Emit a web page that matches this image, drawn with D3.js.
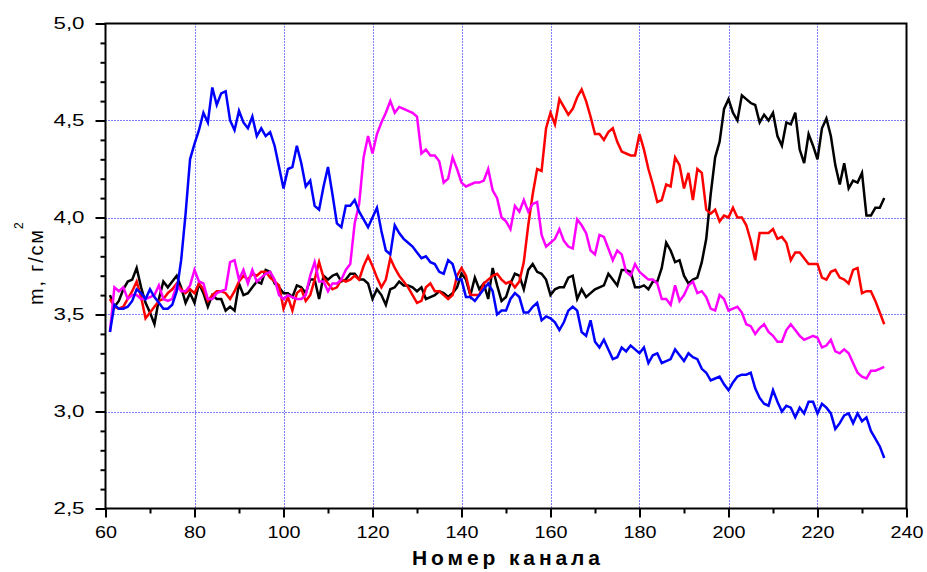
<!DOCTYPE html>
<html>
<head>
<meta charset="utf-8">
<script src="https://cdn.jsdelivr.net/npm/d3@7"></script>
<style>
  body { margin: 0; background: #fff; }
  svg { display: block; font-family: "Liberation Sans", Arial, sans-serif; }
</style>
</head>
<body>
<svg id="chart" width="927" height="572"></svg>
<script>
// Channel numbers run from firstChannel upward, one value per channel.
const firstChannel = 61;

const seriesBlack = [
  3.60,3.54,3.57,3.63,3.67,3.68,3.74,3.64,3.56,3.51,
  3.45,3.58,3.67,3.64,3.67,3.70,3.64,3.56,3.61,3.56,
  3.66,3.61,3.54,3.60,3.58,3.58,3.52,3.54,3.52,3.66,
  3.60,3.61,3.64,3.67,3.66,3.73,3.72,3.66,3.64,3.61,
  3.61,3.59,3.65,3.64,3.61,3.68,3.68,3.58,3.70,3.68,
  3.70,3.71,3.67,3.68,3.71,3.71,3.68,3.68,3.66,3.58,
  3.63,3.60,3.55,3.63,3.64,3.67,3.65,3.65,3.64,3.62,
  3.64,3.58,3.59,3.60,3.62,3.61,3.59,3.61,3.64,3.71,
  3.68,3.60,3.69,3.63,3.66,3.58,3.74,3.65,3.57,3.59,
  3.66,3.71,3.70,3.63,3.73,3.76,3.72,3.71,3.68,3.60,
  3.63,3.64,3.64,3.69,3.70,3.58,3.63,3.59,3.61,3.63,
  3.64,3.65,3.71,3.68,3.65,3.73,3.73,3.72,3.64,3.64,
  3.65,3.63,3.67,3.67,3.74,3.87,3.83,3.77,3.78,3.70,
  3.66,3.68,3.69,3.77,3.89,4.12,4.31,4.39,4.56,4.61,
  4.54,4.50,4.63,4.61,4.59,4.58,4.49,4.53,4.50,4.54,
  4.42,4.37,4.49,4.48,4.54,4.35,4.28,4.43,4.37,4.30,
  4.46,4.51,4.42,4.27,4.17,4.28,4.15,4.19,4.18,4.23,
  4.01,4.01,4.05,4.05,4.10
];

const seriesRed = [
  3.58,3.54,3.53,3.54,3.58,3.62,3.67,3.59,3.48,3.51,
  3.54,3.57,3.58,3.61,3.63,3.66,3.63,3.61,3.63,3.61,
  3.66,3.63,3.57,3.60,3.62,3.62,3.61,3.58,3.62,3.67,
  3.70,3.68,3.71,3.70,3.72,3.72,3.69,3.67,3.65,3.53,
  3.59,3.52,3.61,3.63,3.57,3.60,3.68,3.77,3.69,3.66,
  3.63,3.64,3.68,3.67,3.68,3.70,3.68,3.75,3.80,3.75,
  3.69,3.64,3.68,3.79,3.74,3.70,3.67,3.64,3.60,3.56,
  3.57,3.64,3.66,3.62,3.62,3.60,3.58,3.60,3.70,3.74,
  3.70,3.60,3.60,3.60,3.66,3.68,3.70,3.71,3.68,3.66,
  3.67,3.64,3.67,3.77,3.96,4.12,4.25,4.24,4.46,4.54,
  4.48,4.61,4.57,4.53,4.56,4.62,4.66,4.60,4.52,4.43,
  4.43,4.40,4.44,4.46,4.39,4.34,4.33,4.32,4.32,4.43,
  4.35,4.25,4.17,4.08,4.09,4.17,4.16,4.31,4.27,4.15,
  4.23,4.09,4.25,4.23,4.04,4.02,4.04,3.98,4.01,4.00,
  4.05,4.00,4.00,3.96,3.88,3.78,3.92,3.92,3.92,3.94,
  3.89,3.90,3.87,3.78,3.82,3.82,3.79,3.76,3.76,3.76,
  3.69,3.68,3.72,3.73,3.69,3.68,3.66,3.73,3.74,3.61,
  3.62,3.62,3.57,3.51,3.45
];

const seriesMagenta = [
  3.41,3.64,3.62,3.64,3.58,3.60,3.60,3.58,3.58,3.59,
  3.60,3.65,3.58,3.57,3.58,3.65,3.62,3.62,3.65,3.73,
  3.67,3.66,3.58,3.58,3.61,3.62,3.63,3.77,3.78,3.68,
  3.73,3.66,3.73,3.67,3.69,3.71,3.72,3.68,3.60,3.58,
  3.60,3.59,3.58,3.58,3.60,3.70,3.77,3.67,3.67,3.62,
  3.66,3.66,3.68,3.73,3.76,3.97,4.07,4.31,4.42,4.33,
  4.43,4.49,4.54,4.60,4.54,4.57,4.56,4.55,4.54,4.52,
  4.33,4.35,4.32,4.32,4.29,4.18,4.20,4.31,4.25,4.18,
  4.16,4.17,4.18,4.18,4.19,4.25,4.14,4.10,4.00,3.98,
  3.94,4.06,4.03,4.09,4.03,4.07,4.08,3.91,3.85,3.87,
  3.89,3.94,3.88,3.85,3.84,3.99,3.96,3.92,3.83,3.81,
  3.91,3.90,3.84,3.78,3.83,3.81,3.72,3.70,3.76,3.72,
  3.70,3.68,3.68,3.66,3.58,3.58,3.55,3.65,3.57,3.60,
  3.65,3.67,3.61,3.62,3.59,3.53,3.52,3.60,3.58,3.52,
  3.53,3.54,3.51,3.45,3.44,3.40,3.43,3.45,3.41,3.39,
  3.36,3.36,3.42,3.45,3.42,3.39,3.37,3.38,3.39,3.38,
  3.33,3.34,3.37,3.31,3.30,3.32,3.30,3.25,3.20,3.18,
  3.17,3.21,3.21,3.22,3.23
];

const seriesBlue = [
  3.41,3.55,3.53,3.53,3.54,3.57,3.63,3.61,3.58,3.63,
  3.59,3.56,3.53,3.53,3.55,3.62,3.78,4.02,4.30,4.38,
  4.45,4.54,4.49,4.67,4.58,4.64,4.65,4.50,4.45,4.55,
  4.49,4.46,4.52,4.42,4.46,4.42,4.44,4.37,4.26,4.15,
  4.25,4.26,4.37,4.28,4.16,4.19,4.06,4.04,4.16,4.26,
  4.12,3.97,3.95,4.06,4.06,4.09,4.03,3.99,3.95,4.00,
  4.05,3.93,3.83,3.81,3.96,3.92,3.89,3.87,3.85,3.82,
  3.79,3.80,3.77,3.76,3.72,3.71,3.78,3.76,3.68,3.68,
  3.59,3.59,3.57,3.60,3.63,3.66,3.62,3.50,3.52,3.52,
  3.58,3.61,3.59,3.51,3.51,3.54,3.56,3.47,3.49,3.48,
  3.46,3.42,3.46,3.52,3.54,3.52,3.41,3.39,3.47,3.36,
  3.33,3.37,3.32,3.27,3.28,3.33,3.31,3.34,3.32,3.30,
  3.33,3.25,3.29,3.30,3.25,3.26,3.27,3.32,3.29,3.26,
  3.30,3.28,3.27,3.22,3.20,3.16,3.17,3.18,3.14,3.11,
  3.15,3.18,3.19,3.19,3.20,3.12,3.07,3.04,3.03,3.11,
  3.05,3.00,3.03,3.02,2.97,3.02,2.99,3.05,3.05,2.99,
  3.04,3.02,2.99,2.91,2.94,2.98,2.99,2.94,2.99,2.95,
  2.97,2.90,2.86,2.82,2.76
];

const xTickValues = [60, 80, 100, 120, 140, 160, 180, 200, 220, 240];
const yTickValues = [2.5, 3.0, 3.5, 4.0, 4.5, 5.0];
const xTitle = "Номер канала";
const yTitle = "m, г/см";
const yTitleSup = "2";

// Drawing order: later entries sit on top.
const series = [
  { values: seriesBlack,   color: "#000000" },
  { values: seriesRed,     color: "#ff0000" },
  { values: seriesMagenta, color: "#ff00ff" },
  { values: seriesBlue,    color: "#0000ff" }
];

const plot = { left: 105.5, right: 906.5, top: 23.5, bottom: 508.5 };

const svg = d3.select("#chart");
svg.append("rect").attr("width", 927).attr("height", 572).attr("fill", "#fff");

const x = d3.scaleLinear().domain([60, 240]).range([plot.left, plot.right]);
const y = d3.scaleLinear().domain([2.5, 5.0]).range([plot.bottom, plot.top]);

// Dotted blue grid at the inner major ticks
const grid = svg.append("g").attr("stroke", "#0000ff").attr("stroke-width", 1)
  .attr("stroke-dasharray", "1,2");
grid.selectAll("line.gx")
  .data(xTickValues.slice(1, -1))
  .join("line").attr("class", "gx")
  .attr("x1", d => Math.round(x(d)) + 0.5).attr("x2", d => Math.round(x(d)) + 0.5)
  .attr("y1", plot.top).attr("y2", plot.bottom);
grid.selectAll("line.gy")
  .data(yTickValues.slice(1, -1))
  .join("line").attr("class", "gy")
  .attr("x1", plot.left).attr("x2", plot.right)
  .attr("y1", d => Math.round(y(d)) + 0.5).attr("y2", d => Math.round(y(d)) + 0.5);

// Data lines
const line = d3.line()
  .x((d, i) => x(firstChannel + i))
  .y(d => y(d));
svg.append("g").selectAll("path")
  .data(series)
  .join("path")
  .attr("fill", "none")
  .attr("stroke", d => d.color)
  .attr("stroke-width", 2.5)
  .attr("stroke-linejoin", "miter")
  .attr("d", d => line(d.values));

// Axes
const fmtY = d => d.toFixed(1).replace(".", ",");
const xMinor = d3.range(70, 240, 20);
const yMinor = d3.range(26, 50).map(v => v / 10).filter(v => Math.abs(v * 2 - Math.round(v * 2)) > 1e-6);

function styleAxis(g) {
  g.select(".domain").remove();
  g.selectAll(".tick line").attr("stroke", "#000").attr("stroke-width", 2);
  g.selectAll(".tick text").attr("fill", "#000").attr("font-size", 16);
}

const xAxisG = svg.append("g").attr("transform", `translate(0,${plot.bottom})`);
xAxisG.call(d3.axisBottom(x).tickValues(xTickValues).tickSize(9).tickPadding(9.5).tickFormat(d3.format("d")))
  .call(styleAxis);
xAxisG.selectAll(".tick text")
  .attr("textLength", d => String(d).length * 11)
  .attr("lengthAdjust", "spacingAndGlyphs");
svg.append("g").attr("transform", `translate(0,${plot.bottom})`)
  .call(d3.axisBottom(x).tickValues(xMinor).tickSize(5).tickFormat(""))
  .call(styleAxis);

const yAxisG = svg.append("g").attr("transform", `translate(${plot.left},0)`);
yAxisG.call(d3.axisLeft(y).tickValues(yTickValues).tickSize(10).tickPadding(11).tickFormat(fmtY))
  .call(styleAxis);
yAxisG.selectAll(".tick text")
  .attr("textLength", 31)
  .attr("lengthAdjust", "spacingAndGlyphs");
svg.append("g").attr("transform", `translate(${plot.left},0)`)
  .call(d3.axisLeft(y).tickValues(yMinor).tickSize(5).tickFormat(""))
  .call(styleAxis);

// Plot frame
svg.append("rect")
  .attr("x", plot.left).attr("y", plot.top)
  .attr("width", plot.right - plot.left).attr("height", plot.bottom - plot.top)
  .attr("fill", "none").attr("stroke", "#000").attr("stroke-width", 2);

// Axis titles
svg.append("text")
  .attr("x", (plot.left + plot.right) / 2).attr("y", 565)
  .attr("text-anchor", "middle")
  .attr("font-size", 21).attr("font-weight", "bold")
  .attr("textLength", 188).attr("lengthAdjust", "spacing")
  .text(xTitle);

svg.append("text")
  .attr("transform", "translate(42.7,305) rotate(-90)")
  .attr("text-anchor", "start")
  .attr("font-size", 20)
  .attr("textLength", 75).attr("lengthAdjust", "spacing")
  .text(yTitle);
svg.append("text")
  .attr("transform", "translate(23,229) rotate(-90)")
  .attr("text-anchor", "start")
  .attr("font-size", 12)
  .text(yTitleSup);
</script>
</body>
</html>
